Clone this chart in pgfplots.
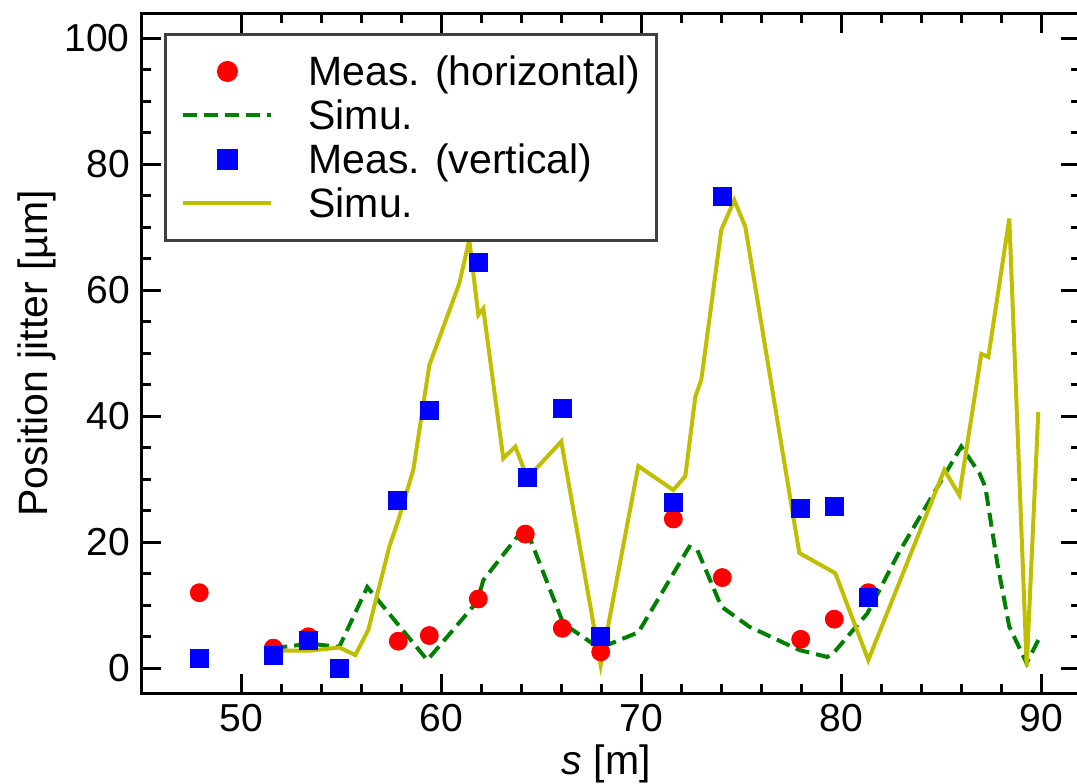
\documentclass[border=0pt]{standalone}
\usepackage{fontspec}
\setmainfont{Liberation Sans}
\usepackage{pgfplots}
\pgfplotsset{compat=1.18}
\definecolor{simuyellow}{rgb}{0.75,0.75,0}
\definecolor{simugreen}{rgb}{0,0.5,0}
\pgfplotstableread{
x y
47.9 12.0
51.6 3.2
53.35 5.0
57.85 4.3
59.4 5.2
61.85 11.0
64.2 21.3
66.05 6.35
67.97 2.6
71.6 23.7
74.05 14.4
77.97 4.6
79.65 7.8
81.35 12.0
}\measH
\pgfplotstableread{
x y
51.6 3.2
53.45 3.9
54.9 3.4
56.3 12.9
59.3 1.3
61.8 10.6
62.1 14.0
64.2 22.5
66.1 7.1
67.9 3.2
69.85 5.7
72.4 19.3
72.8 18.8
74.0 9.8
75.4 6.6
77.9 2.9
79.3 1.8
79.6 2.4
81.3 8.7
82.9 18.5
86.0 35.2
86.9 31.0
87.2 28.8
87.8 16.7
88.4 6.6
89.27 0.8
89.9 4.8
}\simuH
\pgfplotstableread{
x y
47.9 1.5
51.6 2.0
53.35 4.5
54.9 0.0
57.8 26.6
59.4 41.0
61.85 64.5
64.3 30.3
66.05 41.2
67.97 5.0
71.6 26.3
74.05 74.9
77.97 25.4
79.65 25.65
81.35 11.3
}\measV
\pgfplotstableread{
x y
51.6 2.8
53.4 2.8
54.9 3.3
55.7 2.1
56.35 6.1
57.4 19.3
57.85 23.5
58.6 31.5
59.4 48.1
60.9 61.1
61.4 68.0
61.85 56.1
62.1 57.1
63.1 33.3
63.7 35.2
64.3 30.2
66.0 36.0
67.97 0.5
69.85 32.1
71.6 28.3
72.2 30.5
72.7 43.1
73.0 45.8
74.0 69.6
74.65 74.3
75.2 70.1
77.9 18.3
79.7 15.1
81.35 1.3
85.15 31.5
85.9 27.5
87.0 49.9
87.35 49.4
88.4 71.4
89.27 0.3
89.85 40.7
}\simuV
\begin{document}
\fontsize{20}{24}\selectfont
\begin{tikzpicture}
\useasboundingbox (0,0) rectangle (538.5pt,391.5pt);
\begin{axis}[
  at={(70.65pt,44.75pt)}, anchor=south west,
  scale only axis, width=470pt, height=340.2pt,
  xmin=45, xmax=92, ymin=-4, ymax=104,
  xtick={50,60,70,80,90}, ytick={0,20,40,60,80,100},
  minor x tick num=4, minor y tick num=3,
  tick align=inside,
  major tick length=10pt, minor tick length=5pt,
  every tick/.style={black, line width=1.5pt},
  axis line style={line width=1.5pt},
  /pgf/number format/assume math mode=true,
  tick label style={font=\fontsize{19.5}{23}\selectfont},
  xticklabel style={inner sep=0pt, yshift=-5pt},
  yticklabel style={inner sep=0pt, xshift=-5.6pt},
  xlabel={\textit{s} [m]},
  ylabel={Position jitter [µm]},
  every axis x label/.style={at={(axis description cs:0.4947,-0.1190)}, anchor=base, font=\fontsize{20.5}{24}\selectfont},
  every axis y label/.style={at={(axis description cs:-0.0993,0.5)}, anchor=base, rotate=90, font=\fontsize{20.5}{24}\selectfont},
  legend cell align=left,
  legend image code/.code={\draw[mark repeat=2,mark phase=2,#1] plot coordinates {(0pt,0pt) (22pt,0pt) (44pt,0pt)};},
  legend style={at={(0.0241,0.9708)}, anchor=north west, draw=black!75, line width=1.5pt, fill=white,
    inner xsep=8pt, inner ysep=8.5pt, row sep=2pt, column sep=17.5pt,
    font=\fontsize{20.5}{24}\selectfont,
    nodes={inner sep=0pt, text height=17pt, text depth=3pt}},
]
\addplot[only marks, mark=*, mark size=4.5pt, color=red, mark options={draw=none, fill=red}] table {\measH};
\addlegendentry{Meas. (horizontal)}
\addplot[simugreen, line width=2pt, dash pattern=on 7pt off 3.5pt, mark=none] table {\simuH};
\addlegendentry{Simu.}
\addplot[only marks, mark=square*, mark size=4.5pt, color=blue, mark options={draw=none, fill=blue}] table {\measV};
\addlegendentry{Meas. (vertical)}
\addplot[simuyellow, line width=2pt, mark=none] table {\simuV};
\addlegendentry{Simu.}
\end{axis}
\end{tikzpicture}
\end{document}
